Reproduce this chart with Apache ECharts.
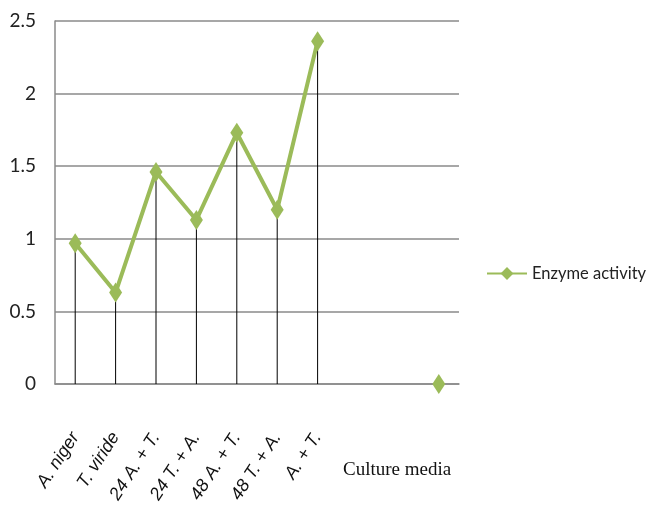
<!DOCTYPE html>
<html>
<head>
<meta charset="utf-8">
<script src="https://cdn.jsdelivr.net/npm/echarts@6/dist/echarts.min.js"></script>
<style>html,body{margin:0;padding:0;background:#fff;}#chart{width:648px;height:514px;}</style>
</head>
<body>
<div id="chart"></div>
<script>
var categories = ['A. niger', 'T. viride', '24 A. + T.', '24 T. + A.', '48 A. + T.', '48 T. + A.', 'A. + T.', '', '', ''];
var enzymeActivity = [0.97, 0.63, 1.46, 1.13, 1.73, 1.20, 2.36, null, null, 0];
var seriesName = 'Enzyme activity';
var xTitle = 'Culture media';
var yTicks = { min: 0, max: 2.5, interval: 0.5 };

var narrow = "Lato, 'Liberation Sans', sans-serif";
var chart = echarts.init(document.getElementById('chart'));
chart.setOption({
  animation: false,
  backgroundColor: '#fff',
  grid: { left: 55, right: 189, top: 21, bottom: 130, containLabel: false },
  legend: {
    data: [seriesName],
    left: 481, top: 260,
    itemWidth: 40, itemHeight: 16, itemGap: 4,
    textStyle: { fontFamily: narrow, fontSize: 16.5, color: '#222' }
  },
  xAxis: {
    type: 'category',
    data: categories,
    boundaryGap: true,
    axisLine: { show: true, lineStyle: { color: '#8a8a8a', width: 1.5 } },
    axisTick: { show: false },
    axisLabel: {
      interval: 0, rotate: 57, margin: 50,
      fontFamily: "'Liberation Sans', Arial, sans-serif", fontStyle: 'italic', fontSize: 18, color: '#111'
    }
  },
  yAxis: {
    type: 'value',
    min: yTicks.min, max: yTicks.max, interval: yTicks.interval,
    axisLine: { show: true, lineStyle: { color: '#8a8a8a', width: 1.5 } },
    axisTick: { show: false },
    splitLine: { show: true, lineStyle: { color: '#8a8a8a', width: 1.5 } },
    axisLabel: { margin: 19, fontFamily: narrow, fontSize: 19, color: '#222' }
  },
  graphic: [{
    type: 'text', left: 343, top: 461,
    style: { text: xTitle, fontFamily: "'Liberation Serif', 'Times New Roman', serif", fontSize: 19, fill: '#111' }
  }],
  series: [
    {
      name: 'drop', type: 'bar', data: enzymeActivity, barWidth: 1, silent: true,
      itemStyle: { color: '#000' }, z: 1
    },
    {
      name: seriesName, type: 'line', data: enzymeActivity, connectNulls: false,
      showAllSymbol: true, symbol: 'diamond', symbolSize: [13, 20],
      lineStyle: { color: '#9BBB59', width: 4 },
      itemStyle: { color: '#9BBB59' }, z: 3
    }
  ]
});
</script>
</body>
</html>
